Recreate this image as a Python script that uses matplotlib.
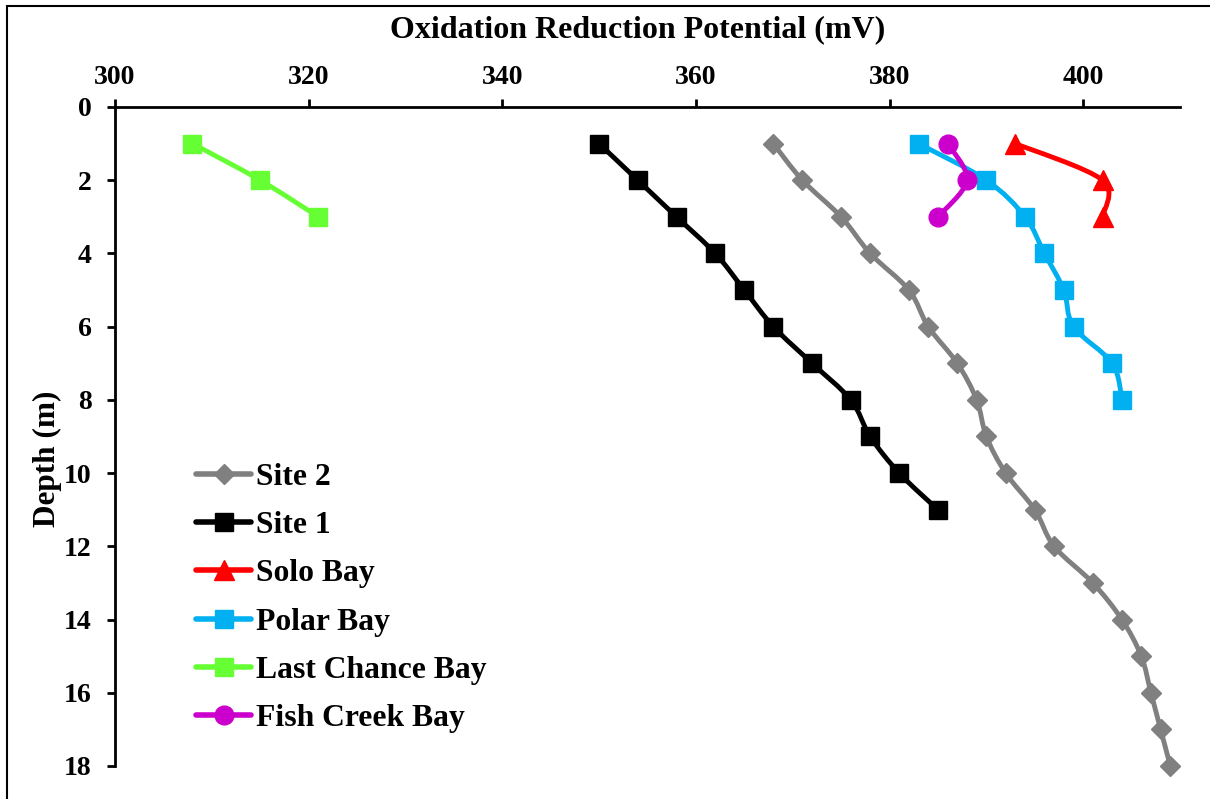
import numpy as np
import matplotlib.pyplot as plt
from matplotlib.path import Path
from matplotlib.patches import PathPatch, Rectangle
from matplotlib.lines import Line2D

plt.rcParams['font.family'] = ['Liberation Serif', 'DejaVu Serif']
plt.rcParams['font.weight'] = 'bold'

# ORP (mV) by depth (m)
site2_depth = list(range(1, 19))
site2_orp = [368, 371, 375, 378, 382, 384, 387, 389, 390, 392, 395, 397, 401, 404, 406, 407, 408, 409]

site1_depth = list(range(1, 12))
site1_orp = [350, 354, 358, 362, 365, 368, 372, 376, 378, 381, 385]

solo_depth = [1, 2, 3]
solo_orp = [393, 402, 402]

polar_depth = list(range(1, 9))
polar_orp = [383, 390, 394, 396, 398, 399, 403, 404]

lastchance_depth = [1, 2, 3]
lastchance_orp = [308, 315, 321]

fishcreek_depth = [1, 2, 3]
fishcreek_orp = [386, 388, 385]

series = [
    ("Site 2", site2_orp, site2_depth, "#808080", "D", 10.5),
    ("Site 1", site1_orp, site1_depth, "#000000", "s", 13),
    ("Solo Bay", solo_orp, solo_depth, "#FF0000", "^", 14),
    ("Polar Bay", polar_orp, polar_depth, "#00B0F0", "s", 13),
    ("Last Chance Bay", lastchance_orp, lastchance_depth, "#66FF33", "s", 13),
    ("Fish Creek Bay", fishcreek_orp, fishcreek_depth, "#CC00CC", "o", 13.5),
]


def smooth_path(x, y):
    # Excel-style smoothed line (Catmull-Rom as cubic Bezier)
    pts = np.column_stack([x, y]).astype(float)
    n = len(pts)
    verts = [pts[0]]
    codes = [Path.MOVETO]
    for i in range(n - 1):
        p0 = pts[max(i - 1, 0)]
        p1 = pts[i]
        p2 = pts[i + 1]
        p3 = pts[min(i + 2, n - 1)]
        verts += [p1 + (p2 - p0) / 6, p2 - (p3 - p1) / 6, p2]
        codes += [Path.CURVE4] * 3
    return Path(verts, codes)


W, H = 1210, 799
fig = plt.figure(figsize=(W / 100, H / 100), dpi=100)
ax_l, ax_r, ax_t, ax_b = 115, 1180, 107, 766
ax = fig.add_axes([ax_l / W, 1 - ax_b / H, (ax_r - ax_l) / W, (ax_b - ax_t) / H])

handles = []
for i, (name, x, y, col, mk, ms) in enumerate(series):
    ax.add_patch(PathPatch(smooth_path(x, y), fill=False, edgecolor=col, lw=3.5,
                           capstyle='round', joinstyle='round', zorder=3 + 2 * i))
    ax.plot(x, y, ls='none', marker=mk, ms=ms, color=col, mec=col, zorder=4 + 2 * i,
            clip_on=False)
    handles.append(Line2D([], [], color=col, lw=4, marker=mk, ms=ms, mec=col,
                          solid_capstyle='round'))

ax.set_xlim(300, 410)
ax.set_ylim(18, 0)
ax.set_xticks(range(300, 401, 20))
ax.set_yticks(range(0, 19, 2))
ax.xaxis.tick_top()
ax.xaxis.set_label_position('top')
for s in ['right', 'bottom']:
    ax.spines[s].set_visible(False)
for s in ['left', 'top']:
    ax.spines[s].set_linewidth(2)
ax.tick_params(axis='x', length=6, width=2, pad=6, labelsize=20)
ax.tick_params(axis='y', length=6, width=2, pad=11, labelsize=20)
for lab in ax.get_xticklabels() + ax.get_yticklabels():
    lab.set_fontweight('bold')

ax.set_xlabel("Oxidation Reduction Potential (mV)", fontsize=23, fontweight='bold')
ax.set_ylabel("Depth (m)", fontsize=22.5, fontweight='bold')
ax.xaxis.set_label_coords((638 - ax_l) / (ax_r - ax_l), 1 + (ax_t - 30) / (ax_b - ax_t))
ax.yaxis.set_label_coords((47 - ax_l) / (ax_r - ax_l), 1 - (459 - ax_t) / (ax_b - ax_t))
ax.xaxis.label.set_verticalalignment('center')
ax.yaxis.label.set_verticalalignment('center')

ax.legend(handles, [s[0] for s in series], loc='upper left',
          bbox_to_anchor=(196 / W, 1 - 463 / H), bbox_transform=fig.transFigure,
          frameon=False, handlelength=1.75, handletextpad=0.15, labelspacing=0.6,
          borderpad=0, borderaxespad=0, numpoints=1,
          prop={'size': 22.8, 'weight': 'bold'})

# chart area border (partly cropped in the original)
fig.patches.append(Rectangle((7 / W, -0.05), 1.2, 1.05 - 6 / H, transform=fig.transFigure,
                             fill=False, edgecolor='black', lw=1.5, clip_on=False))

fig.savefig("out.png", dpi=100)
